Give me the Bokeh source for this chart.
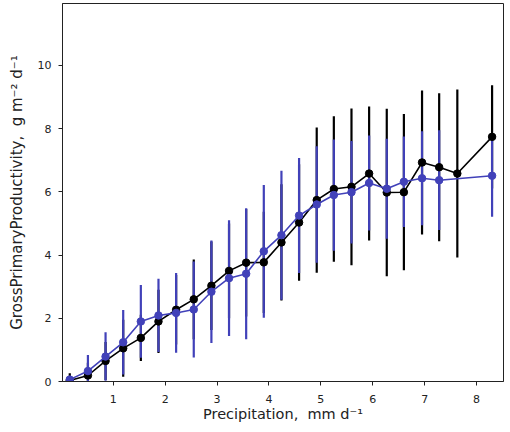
from bokeh.plotting import figure
from bokeh.models import ColumnDataSource, Range1d, FixedTicker
from bokeh.embed import file_html
from bokeh.resources import INLINE
import numpy as np

# Bin centres (Precipitation, mm d-1)
x_black = [0.16, 0.51, 0.85, 1.19, 1.53, 1.87, 2.21, 2.55, 2.89, 3.23, 3.56, 3.90,
           4.24, 4.58, 4.92, 5.25, 5.59, 5.93, 6.27, 6.60, 6.95, 7.28, 7.63, 8.30]
y_black = [0.03, 0.19, 0.65, 1.05, 1.38, 1.90, 2.27, 2.60, 3.03, 3.50, 3.76, 3.77,
           4.40, 5.03, 5.74, 6.09, 6.16, 6.58, 5.98, 5.99, 6.93, 6.78, 6.58, 7.74]
err_black = [0.23, 0.40, 0.60, 0.90, 0.73, 1.00, 1.10, 1.26, 1.40, 1.50, 1.70, 1.60,
             1.84, 1.84, 2.30, 2.30, 2.48, 2.12, 2.65, 2.47, 2.28, 2.34, 2.66, 1.63]

x_blue = [0.16, 0.51, 0.85, 1.19, 1.53, 1.87, 2.21, 2.55, 2.89, 3.23, 3.56, 3.90,
          4.24, 4.58, 4.92, 5.25, 5.59, 5.93, 6.27, 6.60, 6.95, 7.28, 8.30]
y_blue = [0.06, 0.33, 0.79, 1.24, 1.90, 2.09, 2.17, 2.28, 2.84, 3.27, 3.41, 4.12,
          4.63, 5.25, 5.60, 5.90, 5.99, 6.28, 6.10, 6.32, 6.43, 6.37, 6.51]
err_blue = [0.10, 0.51, 0.77, 1.02, 1.15, 1.16, 1.26, 1.52, 1.62, 1.83, 2.07, 2.10,
            2.04, 1.82, 1.84, 1.76, 1.62, 1.50, 1.58, 1.43, 1.49, 1.58, 1.30]

x_ticks = [1, 2, 3, 4, 5, 6, 7, 8]
y_ticks = [0, 2, 4, 6, 8, 10]

BLUE = "#4141b9"
FONT = "DejaVu Sans"


def src(x, y, e):
    x = np.array(x); y = np.array(y); e = np.array(e)
    return ColumnDataSource(dict(x=x, y=y, lo=y - e, hi=y + e))


sb = src(x_black, y_black, err_black)
su = src(x_blue, y_blue, err_blue)

p = figure(width=508, height=427, output_backend="svg", toolbar_location=None,
           x_range=Range1d(0.02, 8.52), y_range=Range1d(0, 11.96),
           min_border_left=62, min_border_right=5, min_border_top=3, min_border_bottom=46)
p.grid.visible = False
p.outline_line_color = "#222222"
p.outline_line_width = 1

p.segment(x0="x", y0="lo", x1="x", y1="hi", source=sb, line_color="black", line_width=2.2)
p.segment(x0="x", y0="lo", x1="x", y1="hi", source=su, line_color=BLUE, line_width=2.2)
p.line("x", "y", source=sb, line_color="black", line_width=1.6)
p.scatter("x", "y", source=sb, size=7.5, fill_color="black", line_color="black")
p.line("x", "y", source=su, line_color=BLUE, line_width=1.6)
p.scatter("x", "y", source=su, size=7.5, fill_color=BLUE, line_color=BLUE)

p.xaxis.ticker = FixedTicker(ticks=x_ticks)
p.yaxis.ticker = FixedTicker(ticks=y_ticks)
p.xaxis.axis_label = "Precipitation,\u00a0 mm d\u207b\u00b9"
p.yaxis.axis_label = "GrossPrimaryProductivity,\u00a0 g m\u207b\u00b2 d\u207b\u00b9"

for ax in (p.xaxis[0], p.yaxis[0]):
    ax.minor_tick_line_color = None
    ax.major_tick_out = 4
    ax.major_tick_in = 0
    ax.major_tick_line_color = "#222222"
    ax.axis_line_color = "#222222"
    ax.major_label_text_font = FONT
    ax.major_label_text_font_size = "11px"
    ax.major_label_text_color = "#222222"
    ax.axis_label_text_font = FONT
    ax.axis_label_text_font_style = "normal"
    ax.axis_label_text_color = "#222222"

p.xaxis.axis_label_text_font_size = "14.5px"
p.yaxis.axis_label_text_font_size = "15px"
p.xaxis.major_label_standoff = 9
p.xaxis.axis_label_standoff = 0
p.yaxis.major_label_standoff = 7
p.yaxis.axis_label_standoff = 9

open("out.html", "w").write(file_html(p, INLINE))
